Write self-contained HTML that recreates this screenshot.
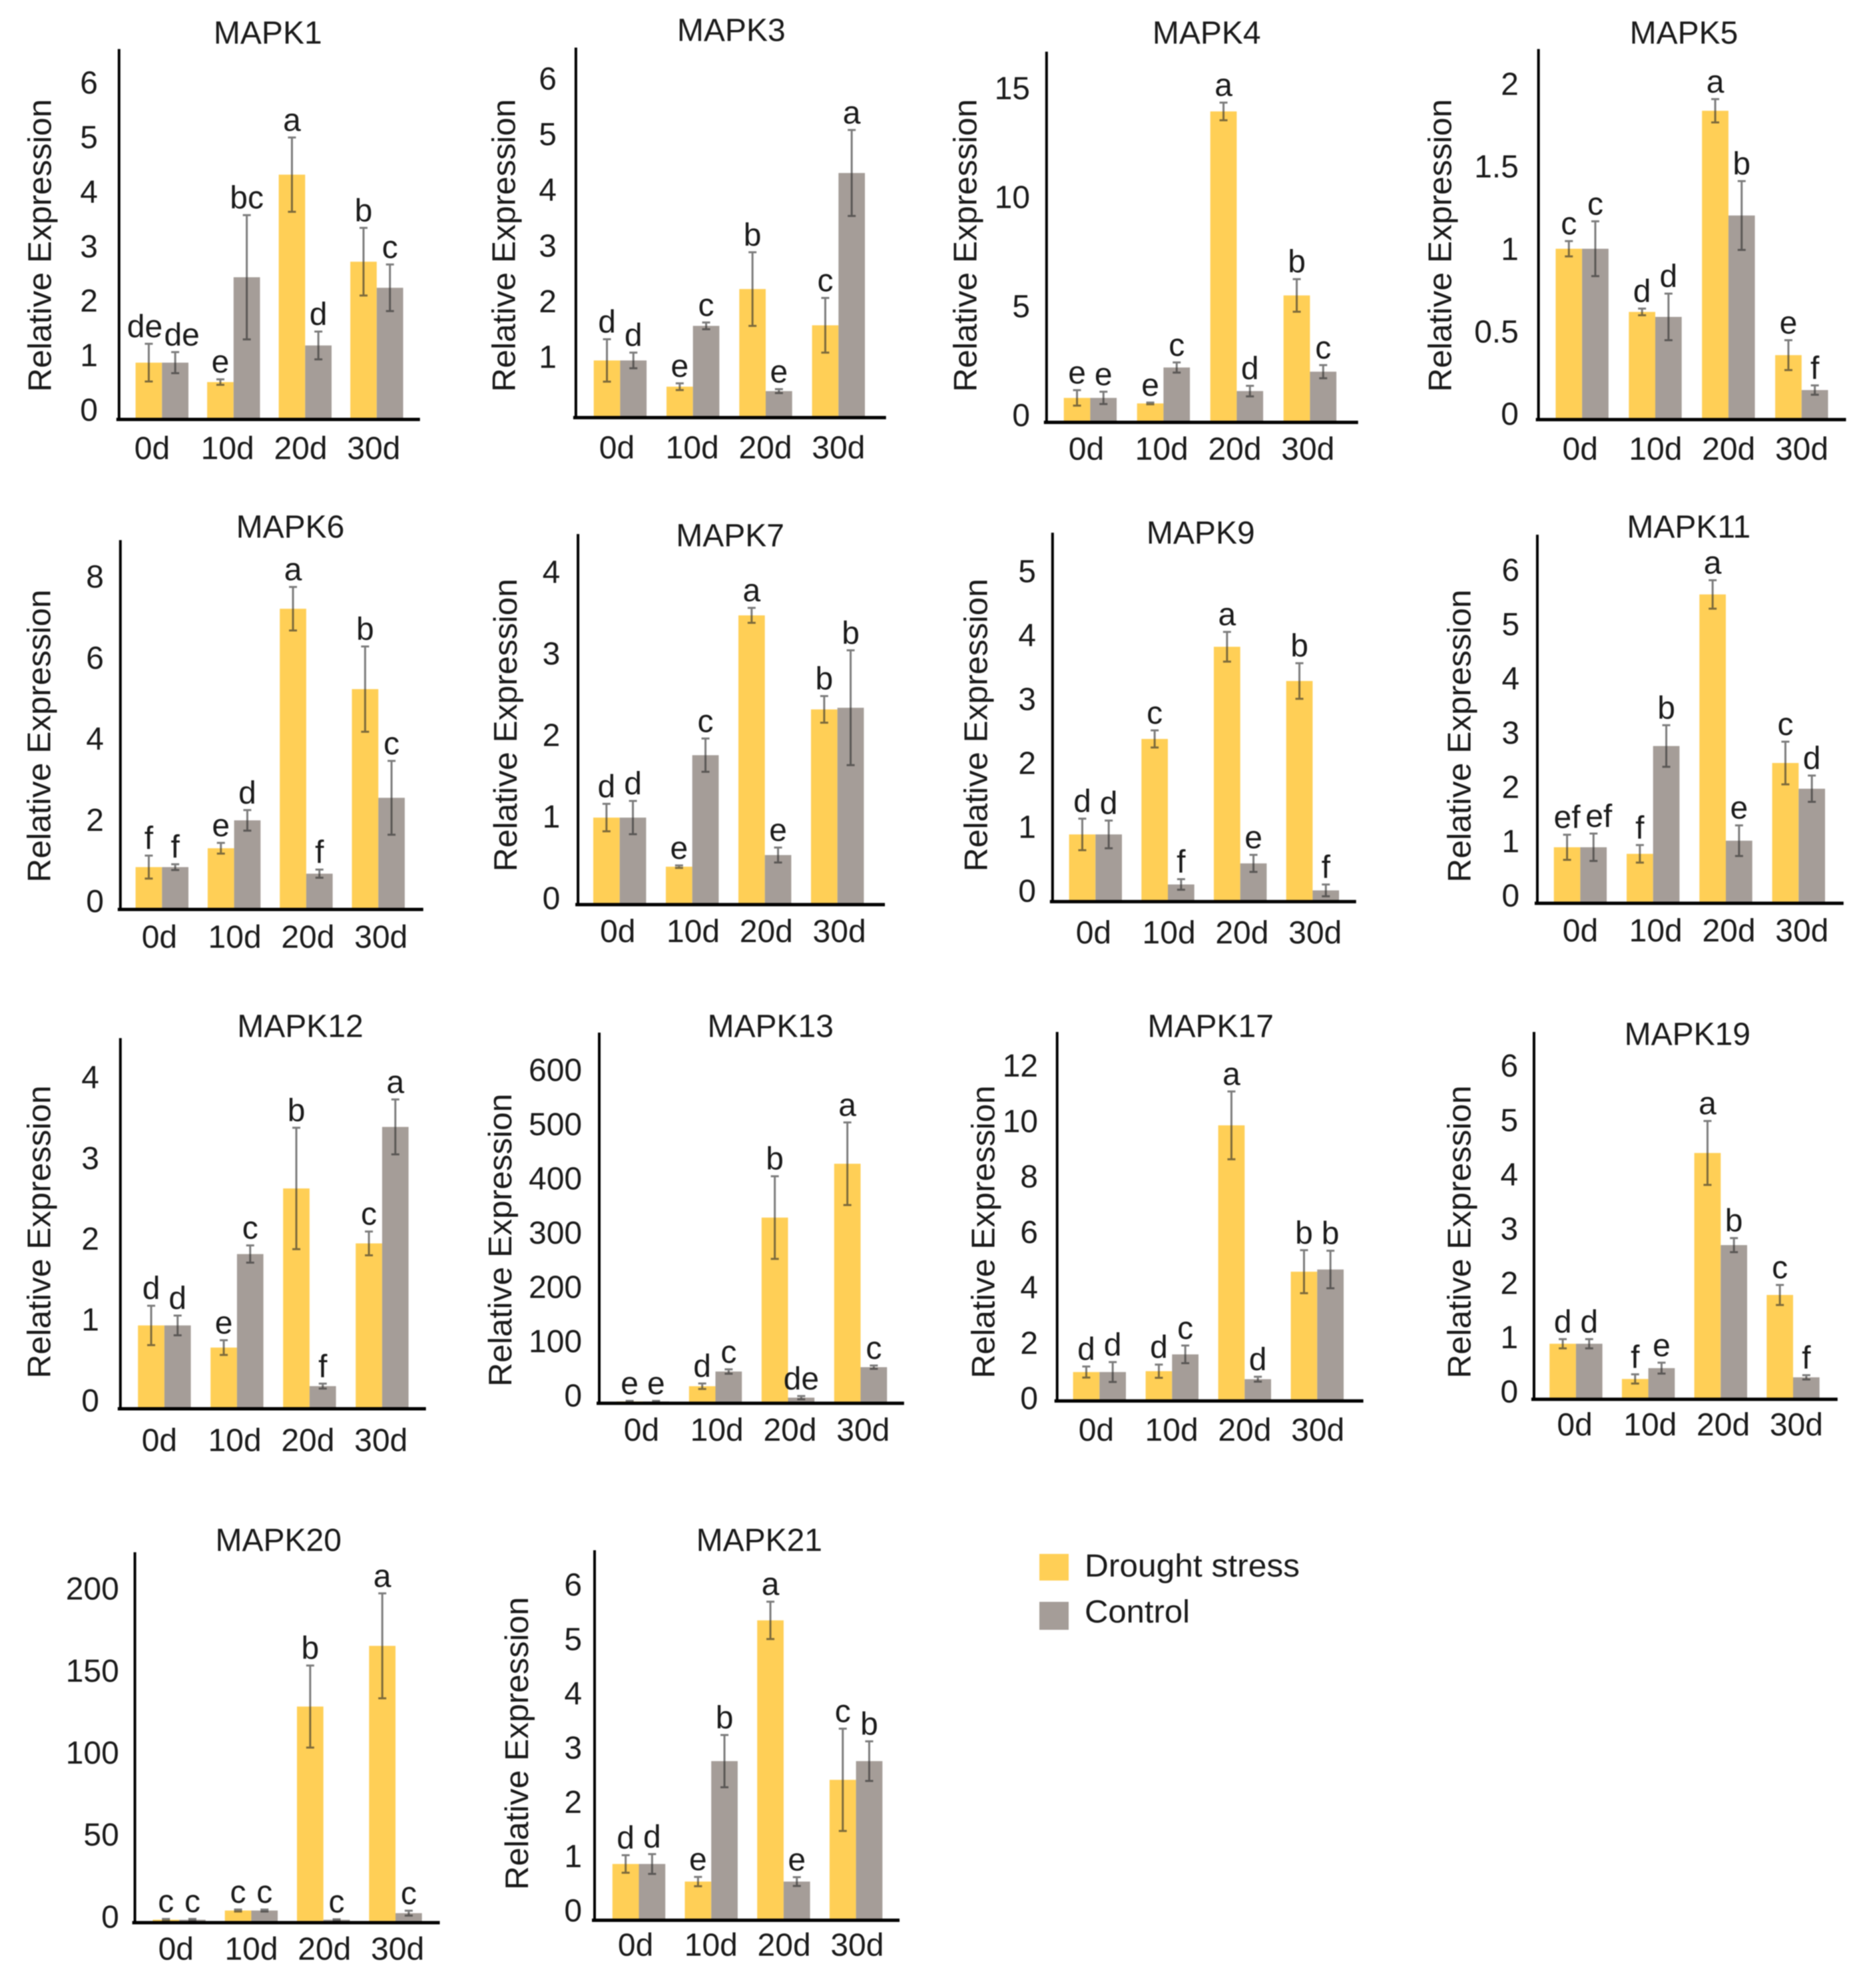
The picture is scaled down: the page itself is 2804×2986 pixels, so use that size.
<!DOCTYPE html>
<html lang="en">
<head>
<meta charset="utf-8">
<title>MAPK relative expression under drought stress</title>
<style>
html,body{margin:0;padding:0;background:#fff;}
#figure{display:block;width:2804px;height:2986px;font-family:"Liberation Sans",Arial,sans-serif;fill:#1a1a1a;filter:blur(0.7px);}
</style>
</head>
<body>
<svg id="figure" xmlns="http://www.w3.org/2000/svg" width="2804" height="2986" viewBox="0 0 2804 2986">
  <rect width="2804" height="2986" fill="#ffffff"/>
  <g>
    <g>
      <rect x="1561" y="2334" width="44" height="40" fill="#FFCF56"/>
      <text x="1629" y="2368" font-size="48" textLength="323" lengthAdjust="spacingAndGlyphs">Drought stress</text>
    </g>
    <g>
      <rect x="1561" y="2406" width="44" height="42" fill="#A59D98"/>
      <text x="1629" y="2437" font-size="48" textLength="158" lengthAdjust="spacingAndGlyphs">Control</text>
    </g>
  </g>
</svg>
<script>
const days = ['0d','10d','20d','30d'];

const mapk1Drought = [1, 0.65, 4.39, 2.82];
const mapk1Control = [1, 2.54, 1.31, 2.35];
const mapk1DroughtErr = [0.34, 0.05, 0.67, 0.61];
const mapk1ControlErr = [0.19, 1.12, 0.25, 0.42];
const mapk1DroughtLetters = ['de','e','a','b'];
const mapk1ControlLetters = ['de','bc','d','c'];
const mapk1Ticks = ['0','1','2','3','4','5','6'];

const mapk3Drought = [1, 0.53, 2.28, 1.63];
const mapk3Control = [1, 1.62, 0.45, 4.36];
const mapk3DroughtErr = [0.38, 0.06, 0.66, 0.49];
const mapk3ControlErr = [0.14, 0.06, 0.035, 0.77];
const mapk3DroughtLetters = ['d','e','b','c'];
const mapk3ControlLetters = ['d','c','e','a'];
const mapk3Ticks = ['1','2','3','4','5','6'];

const mapk4Drought = [1.05, 0.8, 14.05, 5.7];
const mapk4Control = [1.05, 2.43, 1.36, 2.24];
const mapk4DroughtErr = [0.35, 0.04, 0.4, 0.74];
const mapk4ControlErr = [0.28, 0.23, 0.24, 0.3];
const mapk4DroughtLetters = ['e','e','a','b'];
const mapk4ControlLetters = ['e','c','d','c'];
const mapk4Ticks = ['0','5','10','15'];

const mapk5Drought = [1.02, 0.64, 1.85, 0.38];
const mapk5Control = [1.02, 0.61, 1.22, 0.17];
const mapk5DroughtErr = [0.046, 0.02, 0.07, 0.09];
const mapk5ControlErr = [0.165, 0.14, 0.207, 0.028];
const mapk5DroughtLetters = ['c','d','a','e'];
const mapk5ControlLetters = ['c','d','b','f'];
const mapk5Ticks = ['0','0.5','1','1.5','2'];

const mapk6Drought = [1, 1.46, 7.3, 5.34];
const mapk6Control = [1, 2.14, 0.84, 2.69];
const mapk6DroughtErr = [0.28, 0.13, 0.53, 1.04];
const mapk6ControlErr = [0.07, 0.25, 0.1, 0.9];
const mapk6DroughtLetters = ['f','e','a','b'];
const mapk6ControlLetters = ['f','d','f','c'];
const mapk6Ticks = ['0','2','4','6','8'];

const mapk7Drought = [1.03, 0.44, 3.46, 2.33];
const mapk7Control = [1.03, 1.78, 0.58, 2.35];
const mapk7DroughtErr = [0.165, 0.015, 0.09, 0.16];
const mapk7ControlErr = [0.2, 0.2, 0.09, 0.69];
const mapk7DroughtLetters = ['d','e','a','b'];
const mapk7ControlLetters = ['d','c','e','b'];
const mapk7Ticks = ['0','1','2','3','4'];

const mapk9Drought = [1, 2.45, 3.85, 3.33];
const mapk9Control = [1, 0.24, 0.56, 0.15];
const mapk9DroughtErr = [0.24, 0.13, 0.225, 0.27];
const mapk9ControlErr = [0.21, 0.08, 0.13, 0.09];
const mapk9DroughtLetters = ['d','c','a','b'];
const mapk9ControlLetters = ['d','f','e','f'];
const mapk9Ticks = ['0','1','2','3','4','5'];

const mapk11Drought = [1, 0.88, 5.62, 2.54];
const mapk11Control = [1, 2.85, 1.12, 2.07];
const mapk11DroughtErr = [0.23, 0.16, 0.26, 0.39];
const mapk11ControlErr = [0.25, 0.38, 0.28, 0.24];
const mapk11DroughtLetters = ['ef','f','a','c'];
const mapk11ControlLetters = ['ef','b','e','d'];
const mapk11Ticks = ['0','1','2','3','4','5','6'];

const mapk12Drought = [1, 0.73, 2.67, 2.0];
const mapk12Control = [1, 1.87, 0.26, 3.42];
const mapk12DroughtErr = [0.24, 0.09, 0.74, 0.145];
const mapk12ControlErr = [0.12, 0.105, 0.03, 0.335];
const mapk12DroughtLetters = ['d','e','b','c'];
const mapk12ControlLetters = ['d','c','f','a'];
const mapk12Ticks = ['0','1','2','3','4'];

const mapk13Drought = [1, 29, 339, 438];
const mapk13Control = [1, 56, 8, 64];
const mapk13DroughtErr = [1, 5, 76, 76];
const mapk13ControlErr = [1, 4, 3, 3];
const mapk13DroughtLetters = ['e','d','b','a'];
const mapk13ControlLetters = ['e','c','de','c'];
const mapk13Ticks = ['0','100','200','300','400','500','600'];

const mapk17Drought = [1, 1.03, 9.95, 4.64];
const mapk17Control = [1, 1.64, 0.74, 4.72];
const mapk17DroughtErr = [0.2, 0.24, 1.23, 0.78];
const mapk17ControlErr = [0.36, 0.32, 0.09, 0.68];
const mapk17DroughtLetters = ['d','d','a','b'];
const mapk17ControlLetters = ['d','c','d','b'];
const mapk17Ticks = ['0','2','4','6','8','10','12'];

const mapk19Drought = [1, 0.35, 4.52, 1.9];
const mapk19Control = [1, 0.55, 2.82, 0.38];
const mapk19DroughtErr = [0.085, 0.085, 0.59, 0.185];
const mapk19ControlErr = [0.085, 0.1, 0.13, 0.04];
const mapk19DroughtLetters = ['d','f','a','c'];
const mapk19ControlLetters = ['d','e','b','f'];
const mapk19Ticks = ['0','1','2','3','4','5','6'];

const mapk20Drought = [1, 6.6, 131, 168];
const mapk20Control = [1, 6.6, 1, 5];
const mapk20DroughtErr = [0.5, 0.6, 25, 32];
const mapk20ControlErr = [0.5, 0.6, 0.3, 1.5];
const mapk20DroughtLetters = ['c','c','b','a'];
const mapk20ControlLetters = ['c','c','c','c'];
const mapk20Ticks = ['0','50','100','150','200'];

const mapk21Drought = [1, 0.68, 5.43, 2.53];
const mapk21Control = [1, 2.87, 0.68, 2.87];
const mapk21DroughtErr = [0.16, 0.085, 0.34, 0.93];
const mapk21ControlErr = [0.18, 0.475, 0.08, 0.36];
const mapk21DroughtLetters = ['d','e','a','c'];
const mapk21ControlLetters = ['d','b','e','b'];
const mapk21Ticks = ['0','1','2','3','4','5','6'];

const panels = [
 {name:'MAPK1', d:mapk1Drought, c:mapk1Control, de:mapk1DroughtErr, ce:mapk1ControlErr, dl:mapk1DroughtLetters, cl:mapk1ControlLetters, ticks:mapk1Ticks,
  ax:178.8, top:73.6, y0:628, right:630.7, unit:83.3, bar0:203.6, step:107.5, tick0:618, tickTop:126.7, tickRight:147, titleX:402.3, titleY:67.4, yTitleX:76.5, yTitleY:369.8, xLab:341.7, xLabY:691.6, nudgeD:[-6,0,0,0], nudgeC:[10,0,0,0]},
 {name:'MAPK3', d:mapk3Drought, c:mapk3Control, de:mapk3DroughtErr, ce:mapk3ControlErr, dl:mapk3DroughtLetters, cl:mapk3ControlLetters, ticks:mapk3Ticks,
  ax:864.9, top:71.5, y0:625.2, right:1330.7, unit:83.8, bar0:891.7, step:109.3, tick0:622, tickTop:120.5, tickRight:836, titleX:1098.3, titleY:63.3, yTitleX:773.5, yTitleY:369.8, xLab:1039.7, xLabY:690.6},
 {name:'MAPK4', d:mapk4Drought, c:mapk4Control, de:mapk4DroughtErr, ce:mapk4ControlErr, dl:mapk4DroughtLetters, cl:mapk4ControlLetters, ticks:mapk4Ticks,
  ax:1571.8, top:77.6, y0:632.4, right:2039.7, unit:33.1, bar0:1597.7, step:110, tick0:626.2, tickTop:134.9, tickRight:1547, titleX:1812.2, titleY:67.4, yTitleX:1466.6, yTitleY:369.8, xLab:1744.7, xLabY:692.6},
 {name:'MAPK5', d:mapk5Drought, c:mapk5Control, de:mapk5DroughtErr, ce:mapk5ControlErr, dl:mapk5DroughtLetters, cl:mapk5ControlLetters, ticks:mapk5Ticks,
  ax:2310.6, top:73.6, y0:628.3, right:2772.5, unit:249.7, bar0:2336.4, step:109.9, tick0:624.2, tickTop:128.7, tickRight:2280.8, titleX:2529, titleY:67.4, yTitleX:2179.5, yTitleY:369.8, xLab:2486.4, xLabY:692.6},
 {name:'MAPK6', d:mapk6Drought, c:mapk6Control, de:mapk6DroughtErr, ce:mapk6ControlErr, dl:mapk6DroughtLetters, cl:mapk6ControlLetters, ticks:mapk6Ticks,
  ax:180.8, top:811.3, y0:1364, right:635.7, unit:61.6, bar0:203.6, step:108.3, tick0:1355.8, tickTop:868.5, tickRight:156, titleX:436, titleY:809.3, yTitleX:75.5, yTitleY:1106.5, xLab:352.6, xLabY:1425.3},
 {name:'MAPK7', d:mapk7Drought, c:mapk7Control, de:mapk7DroughtErr, ce:mapk7ControlErr, dl:mapk7DroughtLetters, cl:mapk7ControlLetters, ticks:mapk7Ticks,
  ax:868.1, top:802.1, y0:1356.8, right:1329, unit:125, bar0:891, step:109, tick0:1351.7, tickTop:861.4, tickRight:841.3, titleX:1096.6, titleY:822.5, yTitleX:775.8, yTitleY:1090.2, xLab:1041, xLabY:1417.1},
 {name:'MAPK9', d:mapk9Drought, c:mapk9Control, de:mapk9DroughtErr, ce:mapk9ControlErr, dl:mapk9DroughtLetters, cl:mapk9ControlLetters, ticks:mapk9Ticks,
  ax:1580.8, top:800.1, y0:1352.2, right:2036.7, unit:98.9, bar0:1605.6, step:108.7, tick0:1340.5, tickTop:860.3, tickRight:1556, titleX:1803.3, titleY:818.4, yTitleX:1482.4, yTitleY:1090.2, xLab:1755.6, xLabY:1419.1},
 {name:'MAPK11', d:mapk11Drought, c:mapk11Control, de:mapk11DroughtErr, ce:mapk11ControlErr, dl:mapk11DroughtLetters, cl:mapk11ControlLetters, ticks:mapk11Ticks,
  ax:2308.9, top:803.1, y0:1354.8, right:2768.8, unit:82.2, bar0:2333.7, step:109.3, tick0:1347.6, tickTop:858.3, tickRight:2282.1, titleX:2536.3, titleY:809.3, yTitleX:2208.7, yTitleY:1106.5, xLab:2486.7, xLabY:1416.1, nudgeC:[8,0,0,0]},
 {name:'MAPK12', d:mapk12Drought, c:mapk12Control, de:mapk12DroughtErr, ce:mapk12ControlErr, dl:mapk12DroughtLetters, cl:mapk12ControlLetters, ticks:mapk12Ticks,
  ax:180.8, top:1559.3, y0:2114, right:639.7, unit:123.2, bar0:207.2, step:109, tick0:2105.8, tickTop:1620.5, tickRight:149, titleX:451, titleY:1559.3, yTitleX:75.5, yTitleY:1851.4, xLab:352.6, xLabY:2181.4},
 {name:'MAPK13', d:mapk13Drought, c:mapk13Control, de:mapk13DroughtErr, ce:mapk13ControlErr, dl:mapk13DroughtLetters, cl:mapk13ControlLetters, ticks:mapk13Ticks,
  ax:900, top:1551, y0:2105.8, right:1357.8, unit:0.817, bar0:925.8, step:109, tick0:2098.7, tickTop:1609.3, tickRight:874.1, titleX:1157.2, titleY:1559.3, yTitleX:767.8, yTitleY:1863.7, xLab:1076.7, xLabY:2166.1},
 {name:'MAPK17', d:mapk17Drought, c:mapk17Control, de:mapk17DroughtErr, ce:mapk17ControlErr, dl:mapk17DroughtLetters, cl:mapk17ControlLetters, ticks:mapk17Ticks,
  ax:1587.7, top:1550, y0:2102.2, right:2047.6, unit:41.4, bar0:1611.6, step:109, tick0:2102.7, tickTop:1603.2, tickRight:1559, titleX:1818.2, titleY:1559.3, yTitleX:1493.4, yTitleY:1851.4, xLab:1759.6, xLabY:2166.1},
 {name:'MAPK19', d:mapk19Drought, c:mapk19Control, de:mapk19DroughtErr, ce:mapk19ControlErr, dl:mapk19DroughtLetters, cl:mapk19ControlLetters, ticks:mapk19Ticks,
  ax:2303.9, top:1550, y0:2099.7, right:2759.8, unit:81.4, bar0:2327.2, step:108.7, tick0:2092.5, tickTop:1603.2, tickRight:2280.1, titleX:2534.3, titleY:1571.5, yTitleX:2208.6, yTitleY:1851.4, xLab:2478.3, xLabY:2157.9},
 {name:'MAPK20', d:mapk20Drought, c:mapk20Control, de:mapk20DroughtErr, ce:mapk20ControlErr, dl:mapk20DroughtLetters, cl:mapk20ControlLetters, ticks:mapk20Ticks,
  ax:202.6, top:2331.5, y0:2885.9, right:660.5, unit:2.463, bar0:229.4, step:108.3, tick0:2881.3, tickTop:2388.7, tickRight:178.8, titleX:418.2, titleY:2331.5, yTitleX:null, yTitleY:0, xLab:377.5, xLabY:2945.6},
 {name:'MAPK21', d:mapk21Drought, c:mapk21Control, de:mapk21DroughtErr, ce:mapk21ControlErr, dl:mapk21DroughtLetters, cl:mapk21ControlLetters, ticks:mapk21Ticks,
  ax:893, top:2328.5, y0:2882.3, right:1351, unit:82.6, bar0:919.8, step:108.7, tick0:2872, tickTop:2382.7, tickRight:874.1, titleX:1140.3, titleY:2331.5, yTitleX:793.2, yTitleY:2619.7, xLab:1067.8, xLabY:2939.5}
];

const SVGNS = 'http://www.w3.org/2000/svg';
const figure = document.getElementById('figure');
const BAR_W = 39.7;
const YELLOW = '#FFCF56';
const GREY = '#A59D98';
const FONT = 48;

function make(tag, parent, attrs, content){
  const node = document.createElementNS(SVGNS, tag);
  for (const k in attrs) node.setAttribute(k, attrs[k]);
  if (content !== undefined) node.textContent = content;
  parent.appendChild(node);
  return node;
}

function drawSeries(g, p, slug, seriesName, values, errs, letters, nudges, offset, color, yScale, xScale){
  values.forEach(function(v, i){
    const day = days[i];
    const left = xScale(i) + offset;
    const bar = make('rect', g, {x:left, y:yScale(v), width:BAR_W, height:Math.max(0, yScale(0) - yScale(v)), fill:color});
    
    
  });
  values.forEach(function(v, i){
    const day = days[i];
    const cx = xScale(i) + offset + BAR_W / 2;
    const hi = yScale(v + errs[i]);
    const lo = yScale(Math.max(0, v - errs[i]));
    const eb = make('path', g, {d:'M'+cx+' '+hi+'V'+lo+'M'+(cx-6)+' '+hi+'H'+(cx+6)+'M'+(cx-6)+' '+lo+'H'+(cx+6), fill:'none', stroke:'#2b2b2b', 'stroke-opacity':'0.62', 'stroke-width':'3'});
    
    
    const nudge = nudges ? nudges[i] : 0;
    const lab = make('text', g, {x:cx + nudge, y:hi - 10, 'font-size':FONT, 'text-anchor':'middle'}, letters[i]);
    
    
  });
}

panels.forEach(function(p){
  const slug = p.name.toLowerCase();
  const yScale = function(v){ return p.y0 - v * p.unit; };
  const xScale = function(i){ return p.bar0 + i * p.step; };
  const lastTick = parseFloat(p.ticks[p.ticks.length - 1]);
  const tickY = function(v){ return p.tick0 - (v / lastTick) * (p.tick0 - p.tickTop); };
  const xLabelX = function(i){ return i === 0 ? p.xLab - 113.2 : p.xLab + (i - 1) * 109.8; };

  const g = make('g', figure, {});
  
  

  const title = make('text', g, {x:p.titleX, y:p.titleY - 2, 'font-size':FONT, 'text-anchor':'middle'}, p.name);
  
  

  if (p.yTitleX !== null) {
    const yt = make('text', g, {x:0, y:0, 'font-size':49, 'text-anchor':'middle', textLength:440, lengthAdjust:'spacingAndGlyphs', transform:'translate('+p.yTitleX+' '+(p.yTitleY - 1)+') rotate(-90)'}, 'Relative Expression');
    
    
  }

  p.ticks.forEach(function(t){
    const tl = make('text', g, {x:p.tickRight, y:tickY(parseFloat(t)) + 14, 'font-size':FONT, 'text-anchor':'end'}, t);
    
    
  });

  drawSeries(g, p, slug, 'drought', p.d, p.de, p.dl, p.nudgeD, 0, YELLOW, yScale, xScale);
  drawSeries(g, p, slug, 'control', p.c, p.ce, p.cl, p.nudgeC, BAR_W, GREY, yScale, xScale);

  days.forEach(function(d, i){
    const xl = make('text', g, {x:xLabelX(i), y:p.xLabY - 2, 'font-size':FONT, 'text-anchor':'middle'}, d);
    
    
  });

  const yAxis = make('line', g, {x1:p.ax, y1:p.top, x2:p.ax, y2:p.y0 + 4, stroke:'#000', 'stroke-width':'4'});
  
  

  const xAxis = make('line', g, {x1:p.ax - 4, y1:p.y0 + 2, x2:p.right, y2:p.y0 + 2, stroke:'#000', 'stroke-width':'5'});
  
  
});
</script>
</body>
</html>
